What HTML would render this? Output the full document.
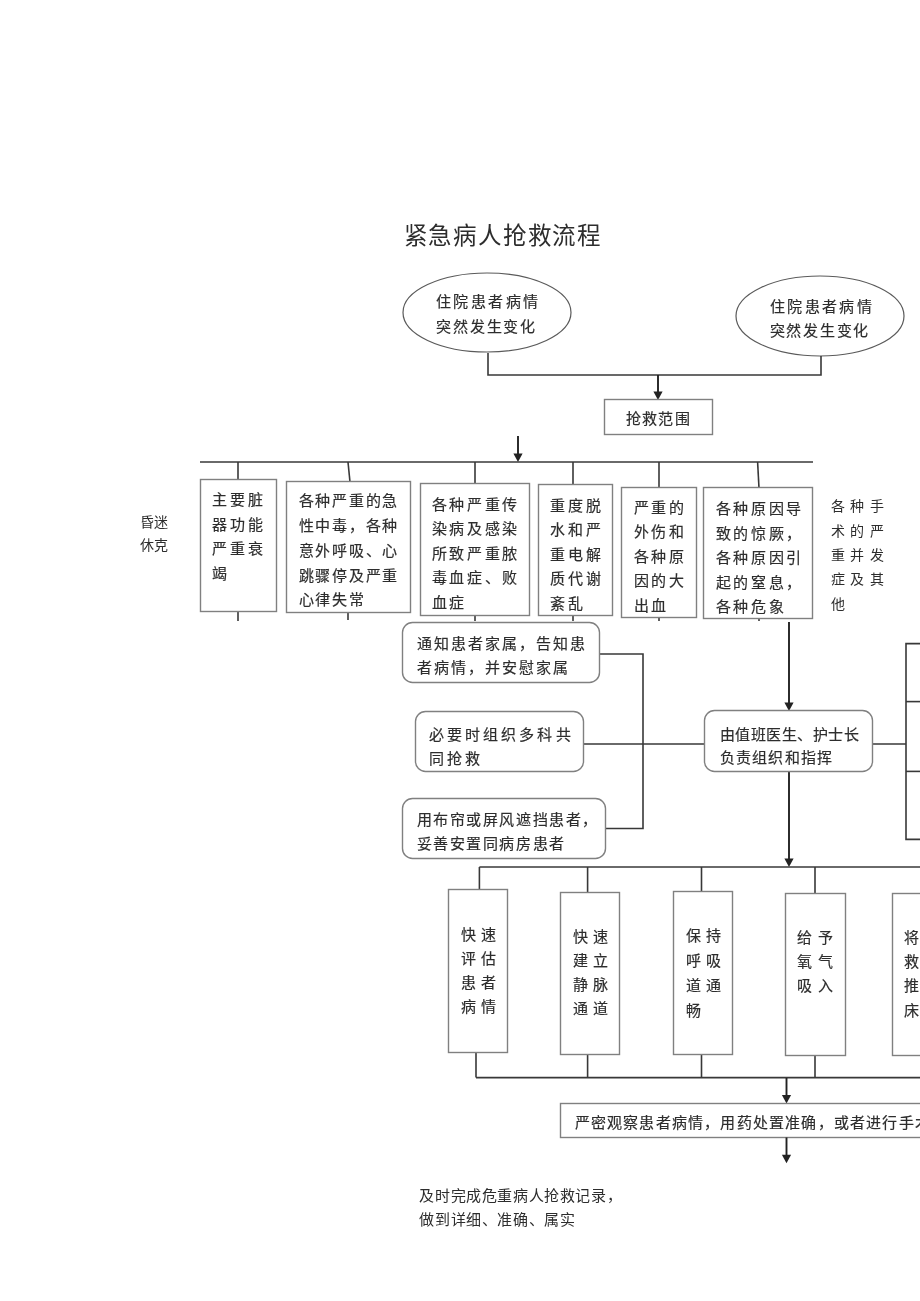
<!DOCTYPE html>
<html lang="zh-CN"><head><meta charset="utf-8"><style>
html,body{margin:0;padding:0;background:#fff;width:920px;height:1301px;overflow:hidden;}
.t{position:absolute;white-space:nowrap;font-family:"Liberation Serif",serif;-webkit-text-stroke:0.18px currentColor;}
#w{position:absolute;left:0;top:0;width:920px;height:1301px;filter:grayscale(100%);}
svg{position:absolute;left:0;top:0;}
</style></head><body>
<div id="w"><svg width="920" height="1301" viewBox="0 0 920 1301">
<ellipse cx="487" cy="312.5" rx="84" ry="39.5" fill="#fff" stroke="#5a5a5a" stroke-width="1.2"/>
<ellipse cx="820" cy="316" rx="84" ry="40" fill="#fff" stroke="#5a5a5a" stroke-width="1.2"/>
<polyline points="488,353 488,375 821,375 821,356" fill="none" stroke="#383838" stroke-width="1.6"/>
<line x1="658" y1="375" x2="658" y2="392.5" stroke="#222" stroke-width="1.9"/>
<path d="M653.4,391.5 L662.6,391.5 L658,400 Z" fill="#222"/>
<rect x="604.5" y="399.5" width="108.0" height="35.0" rx="0" fill="#fff" stroke="#808080" stroke-width="1.4"/>
<line x1="518" y1="436" x2="518" y2="454.5" stroke="#222" stroke-width="1.9"/>
<path d="M513.4,453.5 L522.6,453.5 L518,462 Z" fill="#222"/>
<polyline points="200,462 813,462" fill="none" stroke="#383838" stroke-width="1.6"/>
<polyline points="238,462 238,480" fill="none" stroke="#383838" stroke-width="1.6"/>
<polyline points="348,462 350,482" fill="none" stroke="#383838" stroke-width="1.6"/>
<polyline points="475,462 475,484" fill="none" stroke="#383838" stroke-width="1.6"/>
<polyline points="573,462 573,485" fill="none" stroke="#383838" stroke-width="1.6"/>
<polyline points="659,462 659,488" fill="none" stroke="#383838" stroke-width="1.6"/>
<polyline points="757.6,462 759,488" fill="none" stroke="#383838" stroke-width="1.6"/>
<polyline points="238,611 238,621" fill="none" stroke="#383838" stroke-width="1.6"/>
<polyline points="348,612 348,620" fill="none" stroke="#383838" stroke-width="1.6"/>
<polyline points="475,615 475,621" fill="none" stroke="#383838" stroke-width="1.6"/>
<polyline points="573,615 573,621" fill="none" stroke="#383838" stroke-width="1.6"/>
<polyline points="659,617 659,621" fill="none" stroke="#383838" stroke-width="1.6"/>
<polyline points="759,618 759,621" fill="none" stroke="#383838" stroke-width="1.6"/>
<rect x="200.5" y="479.5" width="76.0" height="132.0" rx="0" fill="#fff" stroke="#808080" stroke-width="1.4"/>
<rect x="286.5" y="481.5" width="124.0" height="131.0" rx="0" fill="#fff" stroke="#808080" stroke-width="1.4"/>
<rect x="420.5" y="483.5" width="109.0" height="132.0" rx="0" fill="#fff" stroke="#808080" stroke-width="1.4"/>
<rect x="538.5" y="484.5" width="74.0" height="131.0" rx="0" fill="#fff" stroke="#808080" stroke-width="1.4"/>
<rect x="621.5" y="487.5" width="75.0" height="130.0" rx="0" fill="#fff" stroke="#808080" stroke-width="1.4"/>
<rect x="703.5" y="487.5" width="109.0" height="131.0" rx="0" fill="#fff" stroke="#808080" stroke-width="1.4"/>
<polyline points="599.4,654 643,654 643,828.5 605.6,828.5" fill="none" stroke="#383838" stroke-width="1.6"/>
<polyline points="583.5,744 704,744" fill="none" stroke="#383838" stroke-width="1.6"/>
<polyline points="872.5,744 906,744" fill="none" stroke="#383838" stroke-width="1.6"/>
<polyline points="920,643.6 906,643.6 906,839.4 920,839.4" fill="none" stroke="#383838" stroke-width="1.6"/>
<polyline points="906,701.6 920,701.6" fill="none" stroke="#383838" stroke-width="1.6"/>
<polyline points="906,771.4 920,771.4" fill="none" stroke="#383838" stroke-width="1.6"/>
<line x1="789" y1="622" x2="789" y2="703.5" stroke="#222" stroke-width="1.9"/>
<path d="M784.4,702.5 L793.6,702.5 L789,711 Z" fill="#222"/>
<line x1="789" y1="771" x2="789" y2="859.5" stroke="#222" stroke-width="1.9"/>
<path d="M784.4,858.5 L793.6,858.5 L789,867 Z" fill="#222"/>
<rect x="402.5" y="622.5" width="197.0" height="60.0" rx="10" fill="#fff" stroke="#808080" stroke-width="1.4"/>
<rect x="415.5" y="711.5" width="168.0" height="60.0" rx="10" fill="#fff" stroke="#808080" stroke-width="1.4"/>
<rect x="402.5" y="798.5" width="203.0" height="60.0" rx="10" fill="#fff" stroke="#808080" stroke-width="1.4"/>
<rect x="704.5" y="710.5" width="168.0" height="61.0" rx="10" fill="#fff" stroke="#808080" stroke-width="1.4"/>
<polyline points="479.4,867 925,867" fill="none" stroke="#383838" stroke-width="1.6"/>
<polyline points="479.4,867 479.4,890" fill="none" stroke="#383838" stroke-width="1.6"/>
<polyline points="476,1052 476,1077.6" fill="none" stroke="#383838" stroke-width="1.6"/>
<rect x="448.5" y="889.5" width="59.0" height="163.0" rx="0" fill="#fff" stroke="#808080" stroke-width="1.4"/>
<polyline points="587.6,867 587.6,892.5" fill="none" stroke="#383838" stroke-width="1.6"/>
<polyline points="587.6,1054 587.6,1077.6" fill="none" stroke="#383838" stroke-width="1.6"/>
<rect x="560.5" y="892.5" width="59.0" height="162.0" rx="0" fill="#fff" stroke="#808080" stroke-width="1.4"/>
<polyline points="701.5,867 701.5,892.3" fill="none" stroke="#383838" stroke-width="1.6"/>
<polyline points="701.5,1054.3 701.5,1077.6" fill="none" stroke="#383838" stroke-width="1.6"/>
<rect x="673.5" y="891.5" width="59.0" height="163.0" rx="0" fill="#fff" stroke="#808080" stroke-width="1.4"/>
<polyline points="815,867 815,893.7" fill="none" stroke="#383838" stroke-width="1.6"/>
<polyline points="815,1055.7 815,1077.6" fill="none" stroke="#383838" stroke-width="1.6"/>
<rect x="785.5" y="893.5" width="60.0" height="162.0" rx="0" fill="#fff" stroke="#808080" stroke-width="1.4"/>
<polyline points="925,867 925,893.7" fill="none" stroke="#383838" stroke-width="1.6"/>
<polyline points="925,1055.7 925,1077.6" fill="none" stroke="#383838" stroke-width="1.6"/>
<rect x="892.5" y="893.5" width="68.0" height="162.0" rx="0" fill="#fff" stroke="#808080" stroke-width="1.4"/>
<polyline points="476,1077.6 925,1077.6" fill="none" stroke="#383838" stroke-width="1.6"/>
<line x1="786.5" y1="1078" x2="786.5" y2="1096.0" stroke="#222" stroke-width="1.9"/>
<path d="M781.9,1095.0 L791.1,1095.0 L786.5,1103.5 Z" fill="#222"/>
<rect x="560.5" y="1103.5" width="400.0" height="34.0" rx="0" fill="#fff" stroke="#808080" stroke-width="1.4"/>
<line x1="786.5" y1="1137.5" x2="786.5" y2="1155.8" stroke="#222" stroke-width="1.9"/>
<path d="M781.9,1154.8 L791.1,1154.8 L786.5,1163.3 Z" fill="#222"/>
</svg>
<div class="t" style="left:403.6px;top:221.3px;font-size:23.5px;line-height:30px;letter-spacing:1.80px;color:#2d2d2d;-webkit-text-stroke:0;">紧急病人抢救流程</div>
<div class="t" style="left:435.9px;top:289.6px;font-size:15px;line-height:25px;letter-spacing:2.50px;color:#2d2d2d;">住院患者病情</div>
<div class="t" style="left:435.9px;top:314.6px;font-size:15px;line-height:25px;letter-spacing:1.90px;color:#2d2d2d;">突然发生变化</div>
<div class="t" style="left:769.8px;top:294.8px;font-size:15px;line-height:24.5px;letter-spacing:2.40px;color:#2d2d2d;">住院患者病情</div>
<div class="t" style="left:769.8px;top:319.3px;font-size:15px;line-height:24.5px;letter-spacing:1.70px;color:#2d2d2d;">突然发生变化</div>
<div class="t" style="left:625.8px;top:406.8px;font-size:15px;line-height:24.5px;letter-spacing:1.30px;color:#2d2d2d;">抢救范围</div>
<div class="t" style="left:139.9px;top:511.1px;font-size:14px;line-height:23px;letter-spacing:0.50px;color:#2d2d2d;-webkit-text-stroke:0;">昏迷<br>休克</div>
<div class="t" style="left:211.9px;top:488.3px;font-size:15px;line-height:24.5px;letter-spacing:3.00px;color:#2d2d2d;">主要脏<br>器功能<br>严重衰<br>竭</div>
<div class="t" style="left:298.5px;top:489.2px;font-size:15px;line-height:24.8px;letter-spacing:1.80px;color:#2d2d2d;">各种严重的急<br>性中毒，各种<br>意外呼吸、心<br>跳骤停及严重<br>心律失常</div>
<div class="t" style="left:431.9px;top:492.9px;font-size:15px;line-height:24.4px;letter-spacing:2.60px;color:#2d2d2d;">各种严重传<br>染病及感染<br>所致严重脓<br>毒血症、败<br>血症</div>
<div class="t" style="left:549.8px;top:493.6px;font-size:15px;line-height:24.6px;letter-spacing:3.00px;color:#2d2d2d;">重度脱<br>水和严<br>重电解<br>质代谢<br>紊乱</div>
<div class="t" style="left:633.8px;top:495.8px;font-size:15px;line-height:24.5px;letter-spacing:2.50px;color:#2d2d2d;">严重的<br>外伤和<br>各种原<br>因的大<br>出血</div>
<div class="t" style="left:715.8px;top:497.2px;font-size:15px;line-height:24.5px;letter-spacing:2.60px;color:#2d2d2d;">各种原因导<br>致的惊厥，<br>各种原因引<br>起的窒息，<br>各种危象</div>
<div class="t" style="left:830.6px;top:495.2px;font-size:14px;line-height:24.4px;letter-spacing:5.80px;color:#2d2d2d;-webkit-text-stroke:0;">各种手<br>术的严<br>重并发<br>症及其<br>他</div>
<div class="t" style="left:416.7px;top:633.2px;font-size:15px;line-height:23.8px;letter-spacing:2.05px;color:#2d2d2d;">通知患者家属，告知患<br>者病情，并安慰家属</div>
<div class="t" style="left:428.9px;top:723.1px;font-size:15px;line-height:24px;letter-spacing:3.10px;color:#2d2d2d;">必要时组织多科共<br>同抢救</div>
<div class="t" style="left:416.5px;top:808.1px;font-size:15px;line-height:24px;letter-spacing:1.60px;color:#2d2d2d;">用布帘或屏风遮挡患者，<br>妥善安置同病房患者</div>
<div class="t" style="left:719.8px;top:724.1px;font-size:15px;line-height:23px;letter-spacing:0.50px;color:#2d2d2d;">由值班医生、护士长</div>
<div class="t" style="left:719.8px;top:747.1px;font-size:15px;line-height:23px;letter-spacing:1.20px;color:#2d2d2d;">负责组织和指挥</div>
<div class="t" style="left:461.1px;top:922.5px;font-size:15px;line-height:24.3px;letter-spacing:4.80px;color:#2d2d2d;">快速<br>评估<br>患者<br>病情</div>
<div class="t" style="left:572.5px;top:924.5px;font-size:15px;line-height:24.3px;letter-spacing:5.00px;color:#2d2d2d;">快速<br>建立<br>静脉<br>通道</div>
<div class="t" style="left:685.7px;top:923.6px;font-size:15px;line-height:25px;letter-spacing:5.00px;color:#2d2d2d;">保持<br>呼吸<br>道通<br>畅</div>
<div class="t" style="left:797.3px;top:925.9px;font-size:15px;line-height:24.3px;letter-spacing:5.50px;color:#2d2d2d;">给予<br>氧气<br>吸入</div>
<div class="t" style="left:904.1px;top:925.9px;font-size:15px;line-height:24.3px;letter-spacing:5.00px;color:#2d2d2d;">将抢<br>救车<br>推至<br>床旁</div>
<div class="t" style="left:574.6px;top:1111.2px;font-size:15px;line-height:24.5px;letter-spacing:1.20px;color:#2d2d2d;">严密观察患者病情，用药处置准确，或者进行手术</div>
<div class="t" style="left:419.4px;top:1183.8px;font-size:15px;line-height:24.5px;letter-spacing:0.60px;color:#2d2d2d;-webkit-text-stroke:0;">及时完成危重病人抢救记录，<br>做到详细、准确、属实</div>
</div></body></html>
